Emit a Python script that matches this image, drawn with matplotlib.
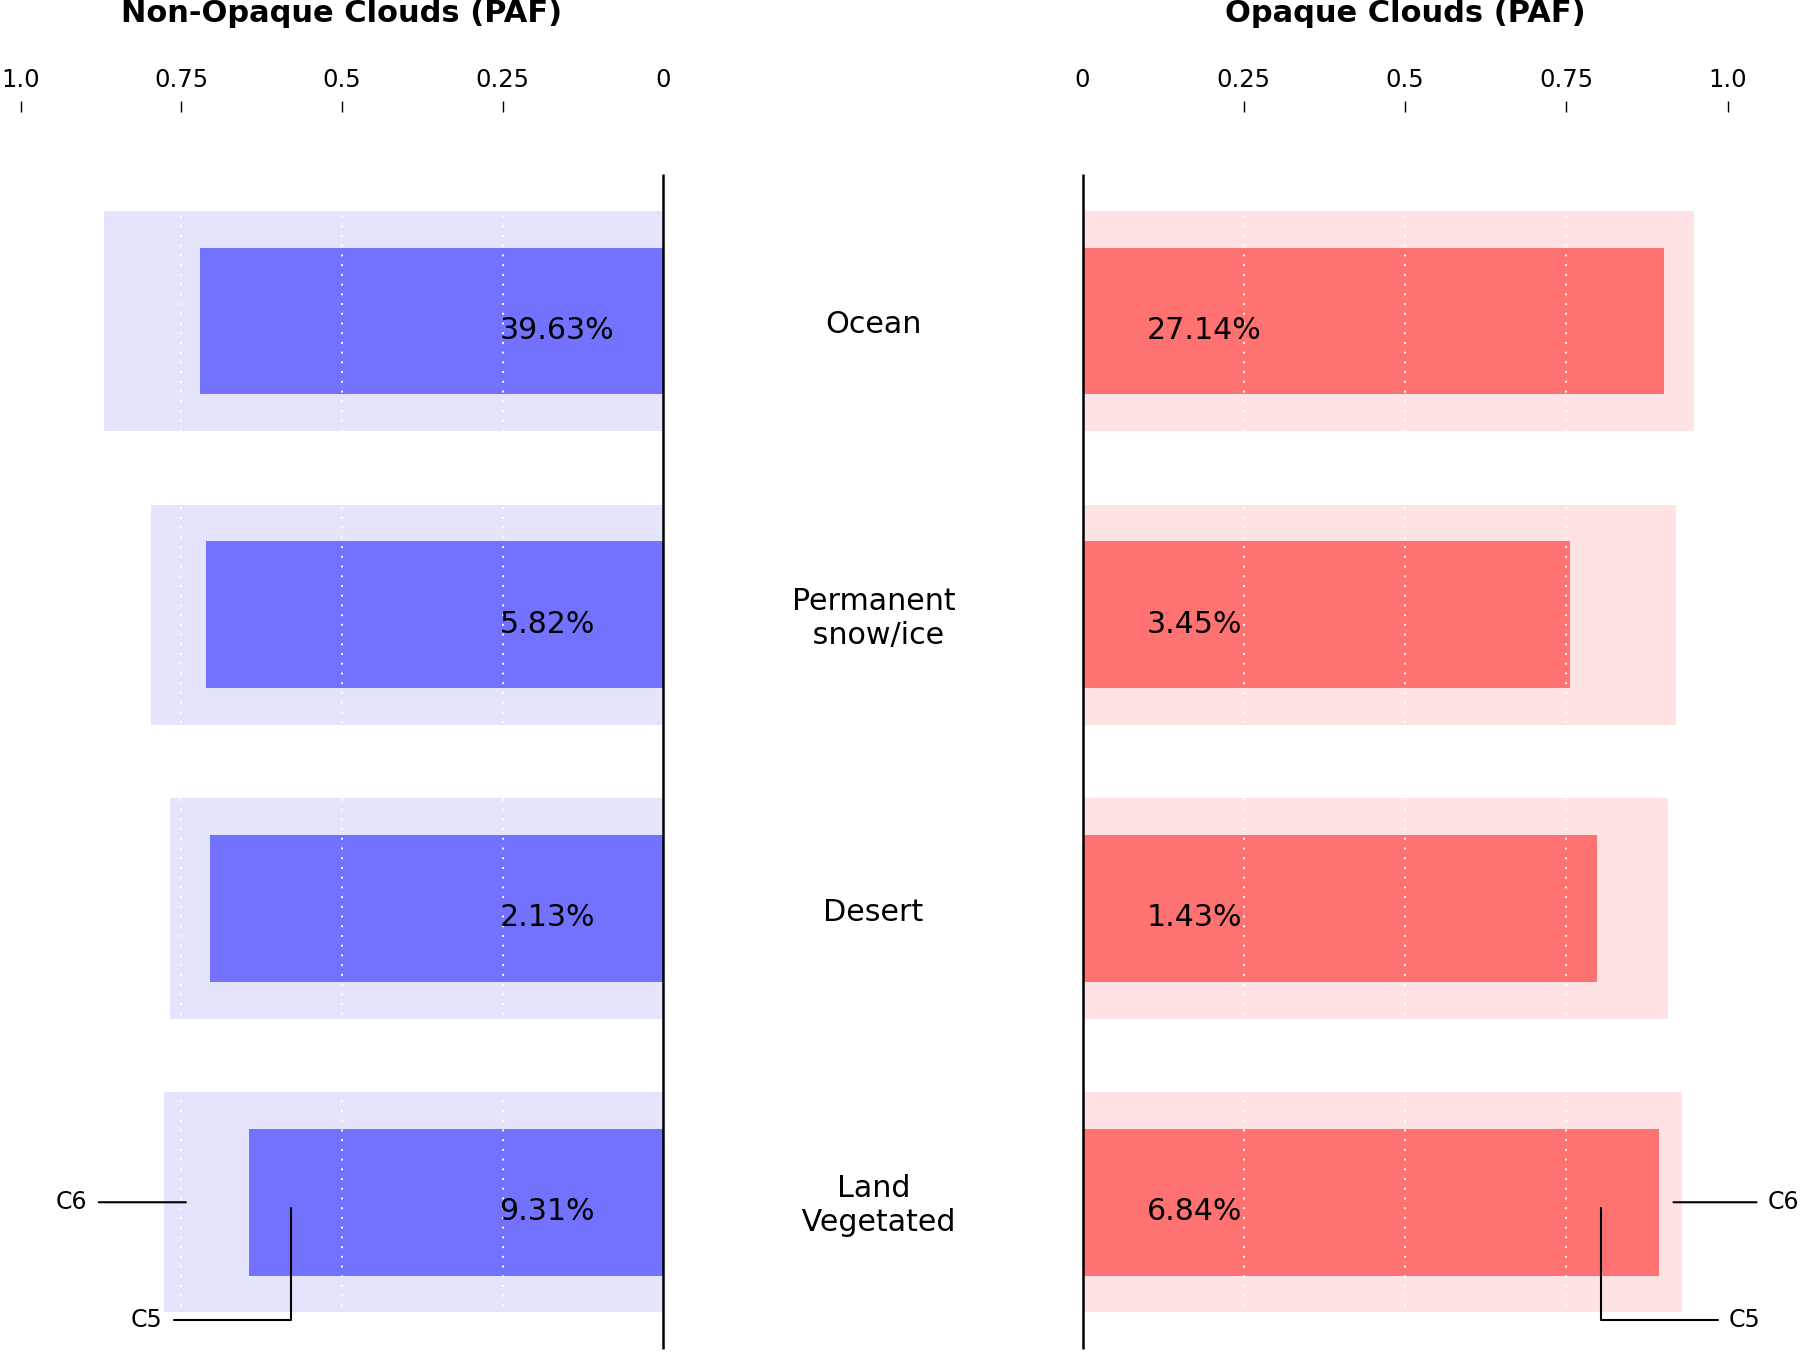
import matplotlib
matplotlib.use('Agg')
import matplotlib.pyplot as plt
import matplotlib.transforms as mtransforms

# surface types and probabilities (PAF)
categories = ['Ocean', 'Permanent\n snow/ice', 'Desert', 'Land\n Vegetated']
nonopaque_c6 = [0.870, 0.798, 0.768, 0.777]
nonopaque_c5 = [0.721, 0.711, 0.705, 0.645]
opaque_c6 = [0.948, 0.920, 0.907, 0.929]
opaque_c5 = [0.902, 0.756, 0.797, 0.893]
nonopaque_pct = ['39.63%', '5.82%', '2.13%', '9.31%']
opaque_pct = ['27.14%', '3.45%', '1.43%', '6.84%']
tick_vals = [0, 0.25, 0.5, 0.75, 1.0]
tick_labels = ['0', '0.25', '0.5', '0.75', '1.0']

blue_dark, blue_light = '#7272ff', '#e4e4fc'
red_dark, red_light = '#ff7272', '#ffe3e4'

fig = plt.figure(figsize=(18, 13.55), dpi=100)
ax1 = fig.add_axes([0.0115, 0.0, 0.3571, 0.917])
ax2 = fig.add_axes([0.6014, 0.0, 0.3584, 0.917])

ypos = list(range(len(categories)))

def style(ax, c6, c5, pct, dark, light, inverted):
    ax.barh(ypos, c6, height=0.75, color=light, zorder=1)
    ax.barh(ypos, c5, height=0.5, color=dark, zorder=2)
    for v in [0.25, 0.5, 0.75]:
        ax.axvline(v, color='white', ls=(0, (1, 4)), lw=1.4, zorder=3)
    ax.vlines(0, -0.5, 3.5, color='black', lw=1.8, zorder=4, clip_on=False)
    for y, t in zip(ypos, pct):
        ax.text(0.255 if inverted else 0.1, y + 0.032, t, ha='left', va='center',
                fontsize=21.6, zorder=5)
    ax.set_ylim(3.52, -0.71)
    if inverted:
        ax.set_xlim(1.0, 0)
    else:
        ax.set_xlim(0, 1.0)
    for s in ax.spines.values():
        s.set_visible(False)
    ax.set_yticks([])
    ax.xaxis.tick_top()
    ax.set_xticks(tick_vals)
    ax.set_xticklabels(tick_labels)
    ax.tick_params(axis='x', direction='out', length=8, width=1, pad=7, labelsize=17.5)
    ax.xaxis.get_major_ticks()[0].tick2line.set_visible(False)

style(ax1, nonopaque_c6, nonopaque_c5, nonopaque_pct, blue_dark, blue_light, True)
style(ax2, opaque_c6, opaque_c5, opaque_pct, red_dark, red_light, False)

fig.text(0.190, 0.990, 'Non-Opaque Clouds (PAF)', ha='center', va='center',
         fontsize=22, fontweight='bold')
fig.text(0.7806, 0.990, 'Opaque Clouds (PAF)', ha='center', va='center',
         fontsize=22, fontweight='bold')

trans = mtransforms.blended_transform_factory(fig.transFigure, ax1.transData)
for y, c in zip(ypos, categories):
    ax1.text(0.4853, y + 0.012, c, transform=trans, ha='center', va='center',
             fontsize=21.7, clip_on=False)

# C5 / C6 callouts on the last row
ax1.annotate('C6', xy=(0.743, 3.0), xytext=(0.896, 3.0), ha='right', va='center',
             fontsize=17, annotation_clip=False,
             arrowprops=dict(arrowstyle='-', lw=1.5, shrinkA=6, shrinkB=0))
ax1.annotate('C5', xy=(0.58, 3.02), xytext=(0.779, 3.40), ha='right', va='center',
             fontsize=17, annotation_clip=False,
             arrowprops=dict(arrowstyle='-', lw=1.5, shrinkA=6, shrinkB=0,
                             connectionstyle='angle,angleA=0,angleB=90,rad=0'))
ax2.annotate('C6', xy=(0.916, 3.0), xytext=(1.062, 3.0), ha='left', va='center',
             fontsize=17, annotation_clip=False,
             arrowprops=dict(arrowstyle='-', lw=1.5, shrinkA=6, shrinkB=0))
ax2.annotate('C5', xy=(0.804, 3.02), xytext=(1.002, 3.40), ha='left', va='center',
             fontsize=17, annotation_clip=False,
             arrowprops=dict(arrowstyle='-', lw=1.5, shrinkA=6, shrinkB=0,
                             connectionstyle='angle,angleA=0,angleB=90,rad=0'))

fig.savefig('out.png', dpi=100)
